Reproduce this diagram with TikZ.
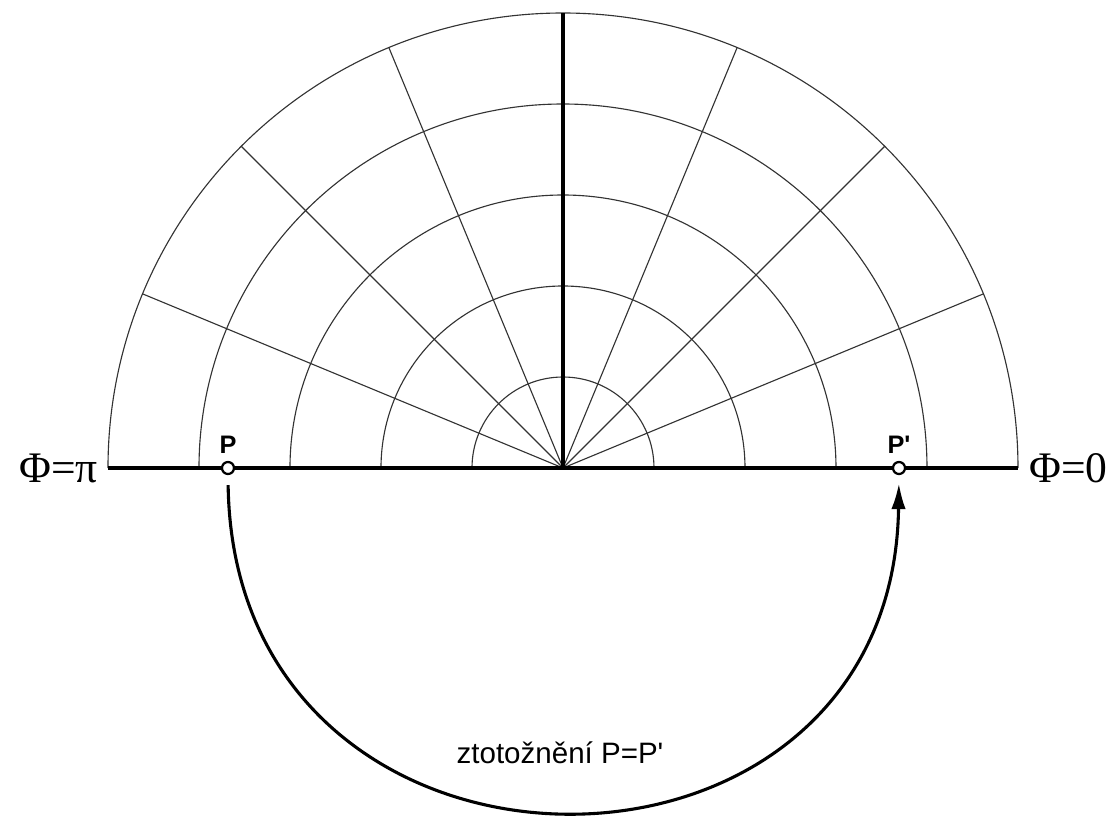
\documentclass[tikz,border=0pt]{standalone}
\usepackage{fontspec}
\setmainfont{Liberation Serif}
\setsansfont{Liberation Sans}
\usetikzlibrary{arrows.meta,positioning}

\begin{document}
\begin{tikzpicture}[x=0.025cm,y=0.025cm,>={Latex[length=6.5mm,width=3.6mm]},
grid/.style={line width=0.8pt,black!80},
axis/.style={line width=2.6pt},
dot/.style={draw,circle,line width=1.6pt,fill=white,inner sep=0pt,minimum size=3mm},
plabel/.style={font=\sffamily\bfseries\fontsize{18}{20}\selectfont,inner sep=1pt},
phlabel/.style={font=\fontsize{31}{34}\selectfont,inner sep=0pt}]
\useasboundingbox (-563,-349) rectangle (556,468);
% polar grid
\foreach \r in {91,182,273,364,455}
  \draw[grid] (\r,0) arc[start angle=0,end angle=180,radius=\r];
\foreach \a in {22.5,45,67.5,112.5,135,157.5}
  \draw[grid] (0,0) -- (\a:455);
\coordinate (O) at (0,0);
\coordinate (top) at (90:455);
\coordinate (west) at (-455,0);
\coordinate (east) at (455,0);
\draw[axis] (O)--(top);
\draw[axis] (west)--(east);
\node[phlabel,left=10 of west] (phipi) {Φ=π};
\node[phlabel,right=11 of east] (phizero) {Φ=0};
% identified points
\node[dot] (P) at (-335,0) {};
\node[dot] (P2) at (336,0) {};
\node[plabel,above=6 of P] (Plab) {P};
\node[plabel,above=6 of P2] (P2lab) {P\textquotesingle};
\draw[->,line width=2.2pt,shorten <=2.5mm,shorten >=2mm] (P.south) .. controls +(6,-445) and +(-6,-445) .. (P2.south);
\node[font=\sffamily\fontsize{21}{24}\selectfont] (ident) at (-3,-285) {ztotožnění P=P\textquotesingle};
\end{tikzpicture}
\end{document}
